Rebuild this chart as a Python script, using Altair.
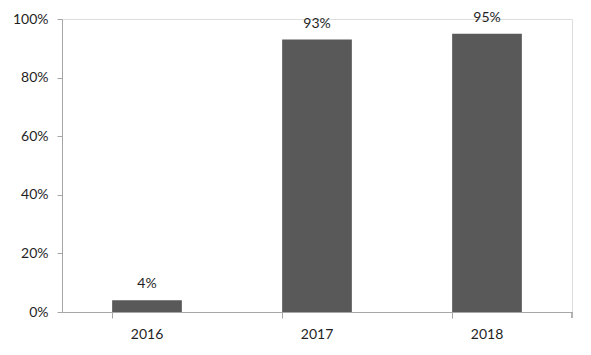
import altair as alt
import pandas as pd

years = ["2016", "2017", "2018"]
values = [4, 93, 95]
labels = ["4%", "93%", "95%"]

df = pd.DataFrame({"year": years, "value": [v / 100 for v in values], "label": labels})

W, H = 510, 293
FONT = "Lato"

base = alt.Chart(df)

bars = base.mark_bar(color="#595959").encode(
    x=alt.X("year:N", sort=years, title=None,
            scale=alt.Scale(paddingInner=0.59, paddingOuter=0.295),
            axis=alt.Axis(labelAngle=0, bandPosition=0, tickSize=6, labelPadding=9,
                          domainColor="#a6a6a6", tickColor="#a6a6a6",
                          labelFont=FONT, labelFontSize=14, labelColor="#1f1f1f")),
    y=alt.Y("value:Q", title=None,
            scale=alt.Scale(domain=[0, 1], nice=False),
            axis=alt.Axis(format="%", values=[0, 0.2, 0.4, 0.6, 0.8, 1.0], grid=False,
                          tickSize=5, labelPadding=9,
                          domainColor="#a6a6a6", tickColor="#a6a6a6",
                          labelFont=FONT, labelFontSize=14, labelColor="#1f1f1f")),
)

text = base.mark_text(dy=-16, font=FONT, fontSize=14, color="#1f1f1f").encode(
    x=alt.X("year:N", sort=years),
    y=alt.Y("value:Q"),
    text="label:N",
)

end_tick = alt.Chart(df).mark_rule(color="#a6a6a6").encode(
    x=alt.value(W), y=alt.value(H), y2=alt.value(H + 6)
)

chart = alt.layer(bars, text, end_tick).properties(
    width=W, height=H,
    autosize=alt.AutoSizeParams(type="none"),
    padding={"left": 54, "top": 11, "right": 10, "bottom": 40},
).configure_view(stroke=None).configure(background="white")

chart.save("out.html", embed_options={"renderer": "svg", "actions": False})
